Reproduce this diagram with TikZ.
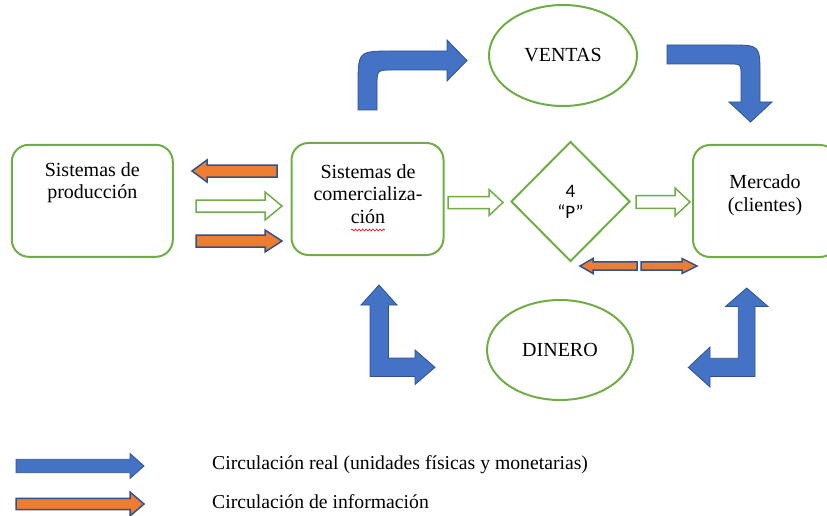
\documentclass[tikz,border=0pt]{standalone}
\usepackage{fontspec}
\setmainfont{Liberation Serif}
\newfontfamily\pfont{Carlito}
\usetikzlibrary{shapes.geometric,decorations.pathmorphing}
\definecolor{boxgreen}{HTML}{70AD47}
\definecolor{flowblue}{HTML}{4472C4}
\definecolor{flowedge}{HTML}{2F528F}
\definecolor{infoorange}{HTML}{ED7D31}
% block arrow: tail x, head base x, tip x, y, half shaft, half head
\newcommand{\blockarrow}[6]{({#1},{#4-#5}) -- ({#2},{#4-#5}) -- ({#2},{#4-#6}) -- ({#3},{#4}) -- ({#2},{#4+#6}) -- ({#2},{#4+#5}) -- ({#1},{#4+#5}) -- cycle}
\tikzset{
  box/.style={draw=boxgreen, line width=2pt, rounded corners=17pt, minimum height=112pt},
  boxtext/.style={align=center, inner sep=0pt, font=\fontsize{20}{22.5}\selectfont},
  oval/.style={ellipse, draw=boxgreen, line width=2pt, font=\fontsize{20}{22.5}\selectfont},
  hollow/.style={draw=boxgreen, fill=white, line width=1.5pt},
  infoflow/.style={draw=flowedge, fill=infoorange, line width=1.5pt},
  realflow/.style={draw=flowedge, fill=flowblue, line width=0.8pt}
}

\begin{document}
\begin{tikzpicture}[x=1pt, y=-1pt]
  \useasboundingbox (0,0) rectangle (827,516);
  \clip (0,0) rectangle (827,516);

  \node[box, minimum width=161pt] (prod) at (92.3,200.8) {};
  \node[boxtext] (prodtext) at (92.3,182.5) {Sistemas de\\producción};
  \node[box, minimum width=152pt] (com) at (367.5,199) {};
  \node[boxtext] (comtext) at (368,194) {Sistemas de\\comercializa-\\ción};
  \draw[red, line width=0.6pt, decorate, decoration={snake, amplitude=1pt, segment length=3.5pt}] (351,230) -- (385,230);
  \node[box, minimum width=144pt] (mercado) at (765,201) {};
  \node[boxtext] (mercadotext) at (765,195) {Mercado\\(clientes)};

  \node[diamond, draw=boxgreen, line width=2pt, aspect=1, minimum width=119pt, minimum height=120pt, align=center, font=\pfont\fontsize{19}{21}\selectfont] (fourp) at (570.5,201.5) {4\\“P”};
  \node[oval, minimum width=148pt, minimum height=101pt] (ventas) at (563,55.5) {VENTAS};
  \node[oval, minimum width=146pt, minimum height=100pt] (dinero) at (560,350) {DINERO};

  %flat arrows between the boxes
  \filldraw[infoflow] \blockarrow{277}{207}{192}{171}{6}{11};
  \filldraw[hollow] \blockarrow{196}{265}{282}{206}{6}{14};
  \filldraw[infoflow] \blockarrow{196}{265}{282}{241}{6}{11};
  \filldraw[hollow] \blockarrow{448}{489}{503}{202.5}{6}{13};
  \filldraw[hollow] \blockarrow{636}{675}{690}{202}{6.3}{14};
  \filldraw[infoflow] \blockarrow{637}{593}{580}{266}{4.2}{7.5};
  \filldraw[infoflow] \blockarrow{641}{682}{697}{266}{4.2}{7.5};

  %bent arrows of the real circulation
  \filldraw[realflow] (358,110) -- (358,86) .. controls (358,51) .. (393,51) -- (447,51) -- (447,40) -- (467,60.5) -- (447,81) -- (447,70) -- (393,70) .. controls (377,70) .. (377,86) -- (377,110) -- cycle;
  \filldraw[realflow] (667,45) -- (730,45) .. controls (760,45) .. (760,75) -- (760,102) -- (772,102) -- (750.5,122) -- (729,102) -- (741,102) -- (741,75) .. controls (741,64) .. (730,64) -- (667,64) -- cycle;
  \filldraw[realflow] (370,376.5) -- (370,305) -- (361,305) -- (379,285) -- (397,305) -- (388.5,305) -- (388.5,358) -- (415,358) -- (415,350) -- (435,367.3) -- (415,384.5) -- (415,376.5) -- cycle;
  \filldraw[realflow] (755,376.5) -- (755,306.5) -- (768,306.5) -- (746.7,288) -- (725.5,306.5) -- (738.3,306.5) -- (738.3,358.3) -- (710,358.3) -- (710,347) -- (688.3,367.5) -- (710,387) -- (710,376.5) -- cycle;

  %legend
  \filldraw[realflow] \blockarrow{16}{130}{144}{466}{6.7}{12.5};
  \filldraw[infoflow] \blockarrow{16}{130}{144}{504}{5.7}{12};
  \node[anchor=west, inner sep=0pt, font=\fontsize{19.7}{22}\selectfont] (realtext) at (212,465) {Circulación real (unidades físicas y monetarias)};
  \node[anchor=west, inner sep=0pt, font=\fontsize{19.7}{22}\selectfont] (infotext) at (212,502) {Circulación de información};
\end{tikzpicture}
\end{document}
